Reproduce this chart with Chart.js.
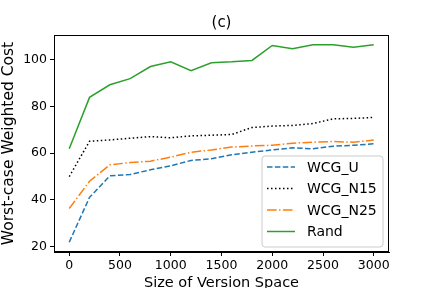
<!DOCTYPE html>
<html>
<head>
<meta charset="utf-8">
<script src="https://cdn.jsdelivr.net/npm/chart.js@4/dist/chart.umd.min.js"></script>
<style>
  html, body { margin: 0; padding: 0; background: #fff; }
  #wrap { width: 432px; height: 288px; }
</style>
</head>
<body>
<div id="wrap"><canvas id="chart" width="432" height="288"></canvas></div>
<script>
// x positions (size of version space)
var sizes = [0, 200, 400, 600, 800, 1000, 1200, 1400, 1600, 1800, 2000, 2200, 2400, 2600, 2800, 3000];

// series values
var wcgU   = [21.9, 41.1, 50.3, 50.9, 52.9, 54.6, 56.9, 57.6, 59.3, 60.4, 61.4, 62.3, 61.9, 63.0, 63.4, 64.0];
var wcgN15 = [50.0, 65.1, 65.7, 66.4, 67.1, 66.6, 67.4, 67.7, 68.0, 71.0, 71.6, 71.9, 72.7, 74.7, 74.9, 75.3];
var wcgN25 = [36.3, 48.0, 55.0, 56.0, 56.6, 58.3, 60.4, 61.4, 62.6, 63.1, 63.4, 64.3, 64.7, 65.0, 64.7, 65.6];
var rand   = [61.9, 83.9, 89.3, 91.9, 97.1, 99.1, 95.3, 98.7, 99.1, 99.7, 106.1, 104.7, 106.4, 106.4, 105.4, 106.4];

var xTicks = [0, 500, 1000, 1500, 2000, 2500, 3000];
var yTicks = [20, 40, 60, 80, 100];

var font = 'DejaVu Sans';

function pts(values) {
    return sizes.map(function(x, i) { return { x: x, y: values[i] }; });
}

function series(label, values, color, dash) {
    return {
        label: label,
        data: pts(values),
        borderColor: color,
        backgroundColor: color,
        borderWidth: 1.5,
        borderDash: dash,
        pointRadius: 0,
        tension: 0,
        fill: false
    };
}

// frame, title and in-plot legend, matplotlib style
var extras = {
    id: 'extras',
    afterDraw: function(chart) {
        var ctx = chart.ctx;
        var a = chart.chartArea;
        ctx.save();

        ctx.strokeStyle = '#000';
        ctx.lineWidth = 1;
        ctx.setLineDash([]);
        ctx.strokeRect(a.left + 0.5, a.top + 0.5, a.right - a.left - 1, a.bottom - a.top - 1);

        ctx.fillStyle = '#000';
        ctx.font = '15px "' + font + '"';
        ctx.textAlign = 'center';
        ctx.textBaseline = 'bottom';
        ctx.fillText('(c)', (a.left + a.right) / 2, a.top - 4);

        // legend box
        var bx = a.right - 127, by = a.bottom - 96, bw = 121, bh = 91;
        ctx.beginPath();
        ctx.moveTo(bx + 3, by);
        ctx.arcTo(bx + bw, by, bx + bw, by + bh, 3);
        ctx.arcTo(bx + bw, by + bh, bx, by + bh, 3);
        ctx.arcTo(bx, by + bh, bx, by, 3);
        ctx.arcTo(bx, by, bx + bw, by, 3);
        ctx.closePath();
        ctx.fillStyle = 'rgba(255,255,255,0.8)';
        ctx.fill();
        ctx.strokeStyle = '#cccccc';
        ctx.stroke();

        ctx.font = '14px "' + font + '"';
        ctx.textAlign = 'left';
        ctx.textBaseline = 'middle';
        chart.data.datasets.forEach(function(ds, i) {
            var ly = by + 11 + i * 21.5;
            ctx.beginPath();
            ctx.strokeStyle = ds.borderColor;
            ctx.lineWidth = 1.5;
            ctx.setLineDash(ds.borderDash || []);
            ctx.moveTo(bx + 5, ly);
            ctx.lineTo(bx + 33, ly);
            ctx.stroke();
            ctx.setLineDash([]);
            ctx.fillStyle = '#000';
            ctx.fillText(ds.label, bx + 45, ly + 1);
        });
        ctx.restore();
    }
};

new Chart(document.getElementById('chart'), {
    type: 'line',
    data: {
        datasets: [
            series('WCG_U', wcgU, '#1f77b4', [5.5, 2.4]),
            series('WCG_N15', wcgN15, '#000000', [1.5, 2.5]),
            series('WCG_N25', wcgN25, '#ff7f0e', [9.6, 2.4, 1.5, 2.4]),
            series('Rand', rand, '#2ca02c', [])
        ]
    },
    options: {
        responsive: false,
        animation: false,
        layout: { padding: { left: 0, right: 43, top: 35, bottom: 0 } },
        plugins: {
            legend: { display: false },
            title: { display: false },
            tooltip: { enabled: false }
        },
        scales: {
            x: {
                type: 'linear',
                min: -150,
                max: 3150,
                afterBuildTicks: function(scale) {
                    scale.ticks = xTicks.map(function(v) { return { value: v }; });
                },
                afterFit: function(scale) { scale.height = 36; },
                grid: { drawOnChartArea: false, drawTicks: true, tickLength: 4, color: '#000' },
                border: { display: true, color: '#000', width: 1 },
                ticks: {
                    color: '#000', font: { family: font, size: 12.5 }, padding: 2, maxRotation: 0,
                    callback: function(v) { return String(v); }
                },
                title: { display: true, text: 'Size of Version Space', color: '#000', font: { family: font, size: 14.5 }, padding: { top: 0, bottom: -4 } }
            },
            y: {
                type: 'linear',
                min: 17.7,
                max: 110.6,
                afterBuildTicks: function(scale) {
                    scale.ticks = yTicks.map(function(v) { return { value: v }; });
                },
                afterFit: function(scale) { scale.width = 54; },
                grid: { drawOnChartArea: false, drawTicks: true, tickLength: 4, color: '#000' },
                border: { display: true, color: '#000', width: 1 },
                ticks: {
                    color: '#000', font: { family: font, size: 12.5 }, padding: 3,
                    callback: function(v) { return String(v); }
                },
                title: { display: true, text: 'Worst-case Weighted Cost', color: '#000', font: { family: font, size: 15.5 }, padding: { top: 0, bottom: 0 } }
            }
        }
    },
    plugins: [extras]
});
</script>
</body>
</html>
